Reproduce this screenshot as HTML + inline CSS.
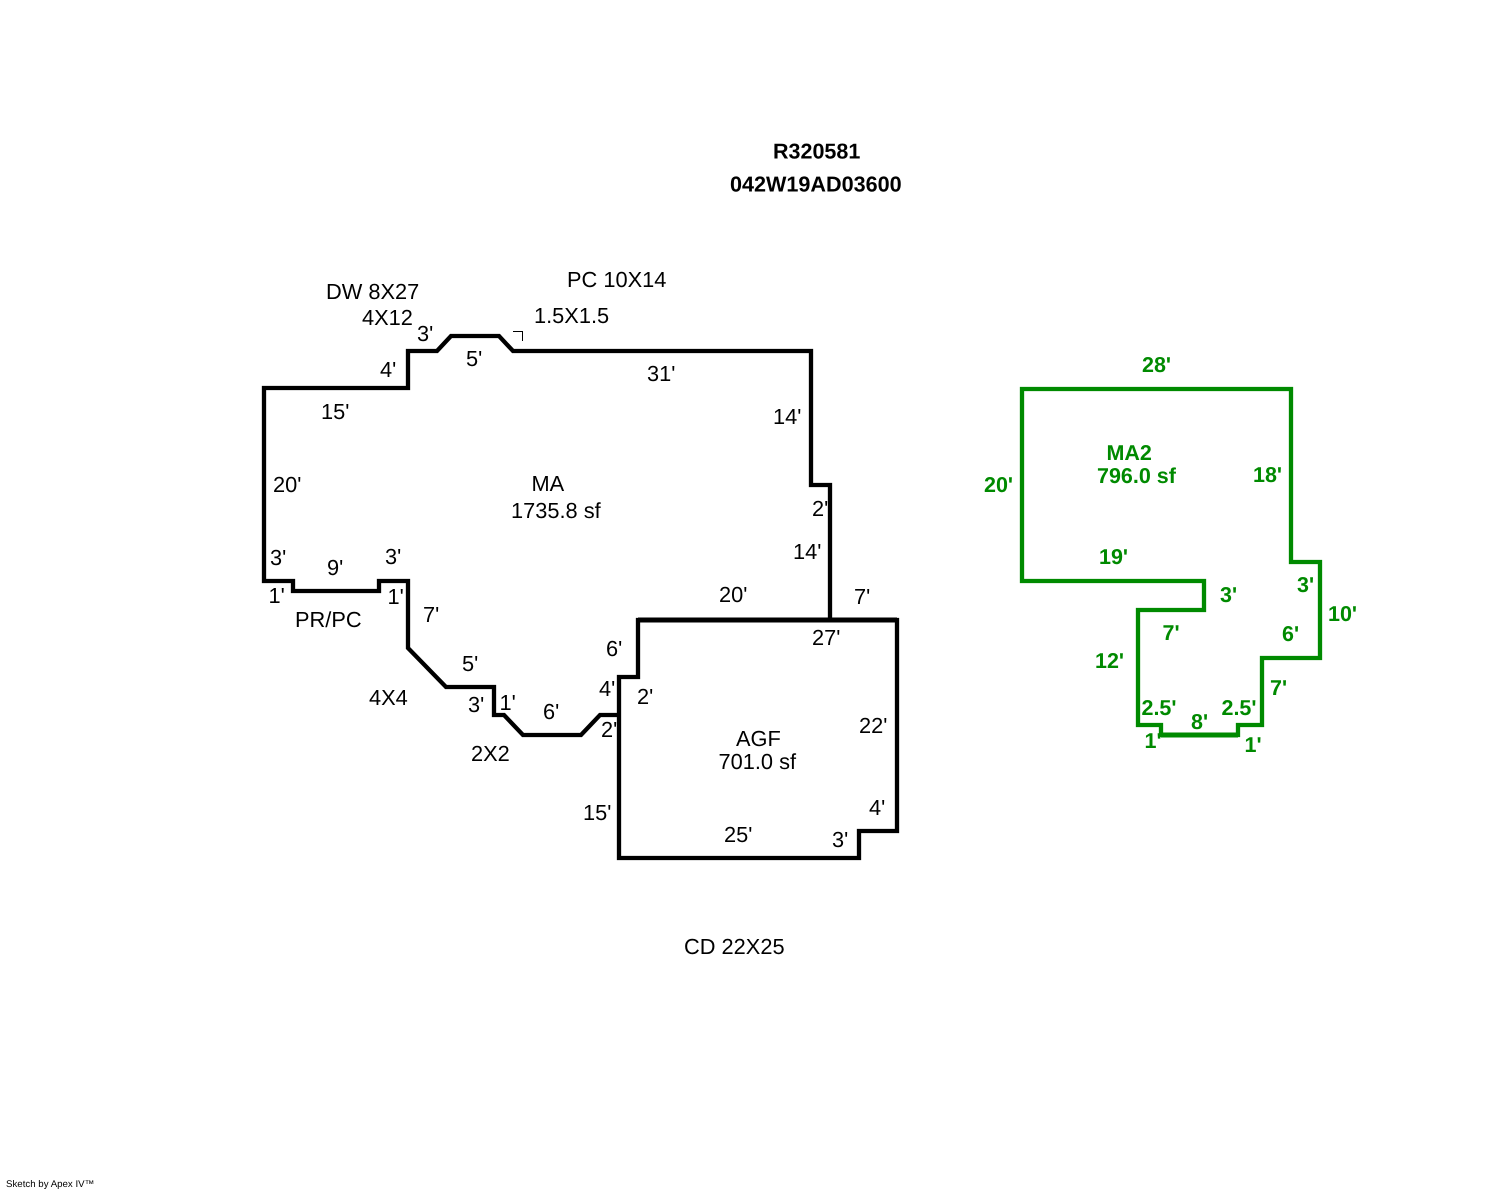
<!DOCTYPE html>
<html><head><meta charset="utf-8"><style>
html,body{margin:0;padding:0;background:#fff;width:1488px;height:1190px;overflow:hidden}
svg{display:block}
text{font-family:"Liberation Sans",Arial,sans-serif;font-size:21.8px;fill:#000;text-rendering:geometricPrecision}
.g text{fill:#008a00;font-weight:bold;font-size:21.5px}
.b{font-weight:bold}
</style></head><body>
<svg width="1488" height="1190" viewBox="0 0 1488 1190" xmlns="http://www.w3.org/2000/svg">
<g fill="none" stroke="#000" stroke-width="4.3" stroke-linejoin="miter">
<path d="M830 620V485H811V351H513L499 336H451L437 351H408V388H264V581H293V591H379V581H408V648L446 687H494V715H504L523 735H581L600 715H619"/>
<path d="M619 858V677H638V620H897V831H859V858Z"/>
</g>
<path d="M638 620H897" fill="none" stroke="#000" stroke-width="5"/>
<path d="M513 331.500H522.500V341" fill="none" stroke="#000" stroke-width="1"/>
<path d="M1022 389H1291V562H1320V658H1262V725H1238V735H1161V725H1138V610H1204V581H1022Z" fill="none" stroke="#008a00" stroke-width="4.3"/>
<path d="M1161 735H1238" fill="none" stroke="#008a00" stroke-width="5"/>
<text class="b" x="773" y="158.500" style="font-size:21.5px">R320581</text>
<text class="b" x="730" y="191.500" style="font-size:21.6px">042W19AD03600</text>
<text x="326" y="299">DW 8X27</text>
<text x="362" y="325">4X12</text>
<text x="567" y="287">PC 10X14</text>
<text x="534" y="323">1.5X1.5</text>
<text x="417" y="341">3'</text>
<text x="466" y="366">5'</text>
<text x="380" y="377">4'</text>
<text x="647" y="381">31'</text>
<text x="321" y="419">15'</text>
<text x="773" y="424">14'</text>
<text x="273" y="492">20'</text>
<text x="812" y="516">2'</text>
<text x="531.500" y="491">MA</text>
<text x="511" y="518">1735.8 sf</text>
<text x="793" y="559">14'</text>
<text x="270" y="565">3'</text>
<text x="385" y="564">3'</text>
<text x="327" y="575">9'</text>
<text x="268.500" y="603">1'</text>
<text x="387.500" y="604">1'</text>
<text x="719" y="602">20'</text>
<text x="854" y="604">7'</text>
<text x="295" y="627">PR/PC</text>
<text x="423" y="622">7'</text>
<text x="812" y="645">27'</text>
<text x="606" y="656">6'</text>
<text x="462" y="671">5'</text>
<text x="599" y="696">4'</text>
<text x="637" y="704">2'</text>
<text x="369" y="705">4X4</text>
<text x="468" y="712">3'</text>
<text x="499.500" y="710">1'</text>
<text x="543" y="719">6'</text>
<text x="601" y="737">2'</text>
<text x="859" y="733">22'</text>
<text x="736" y="746">AGF</text>
<text x="718.500" y="769">701.0 sf</text>
<text x="471" y="761">2X2</text>
<text x="869" y="815">4'</text>
<text x="583" y="820">15'</text>
<text x="724" y="842">25'</text>
<text x="832" y="847">3'</text>
<text x="684" y="954">CD 22X25</text>
<g class="g">
<text x="1142" y="372">28'</text>
<text x="1106.500" y="460">MA2</text>
<text x="1097" y="483">796.0 sf</text>
<text x="984" y="492">20'</text>
<text x="1253" y="482">18'</text>
<text x="1099" y="564">19'</text>
<text x="1297" y="592">3'</text>
<text x="1220" y="602">3'</text>
<text x="1328" y="621">10'</text>
<text x="1162.500" y="640">7'</text>
<text x="1282" y="641">6'</text>
<text x="1095" y="668">12'</text>
<text x="1270" y="695">7'</text>
<text x="1141.500" y="715">2.5'</text>
<text x="1221.500" y="715">2.5'</text>
<text x="1191" y="729">8'</text>
<text x="1144.500" y="748">1'</text>
<text x="1244.500" y="752">1'</text>
</g>
<text x="6" y="1187" style="font-size:9.7px">Sketch by Apex IV™</text>
</svg>
</body></html>
